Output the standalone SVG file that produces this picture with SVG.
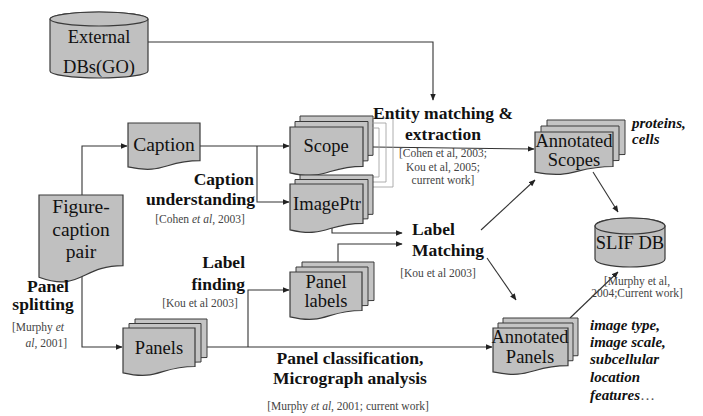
<svg xmlns="http://www.w3.org/2000/svg" width="703" height="416" viewBox="0 0 703 416" font-family="'Liberation Serif', 'Times New Roman', Times, Tinos, 'Nimbus Roman', 'Nimbus Roman No9 L', FreeSerif, 'Noto Serif', 'DejaVu Serif', serif">
<defs>
<marker id="ah" viewBox="0 0 10 10" refX="9" refY="5" markerWidth="7" markerHeight="7" markerUnits="userSpaceOnUse" orient="auto">
<path d="M0,1 L10,5 L0,9 Z" fill="#222"/>
</marker>
<style>
.shape{fill:#c0c0c0;stroke:#3a3a3a;stroke-width:1.2}
.back{fill:#c4c4c4;stroke:#3a3a3a;stroke-width:1}
.conn{fill:none;stroke:#333;stroke-width:1.1;marker-end:url(#ah)}
.thin{fill:none;stroke:#9a9a9a;stroke-width:0.8}
text{fill:#111}
.lbl{font-size:18.5px;text-anchor:middle}
.bold{font-size:17.5px;font-weight:bold}
.cite{font-size:11.5px;fill:#444}
.ital{font-size:15px;font-weight:bold;font-style:italic}
</style>
</defs>
<rect width="703" height="416" fill="#ffffff"/>

<g id="connectors">
<path class="conn" d="M148,42 H433 V100"/>
<path class="conn" d="M82,195 V146 H127"/>
<path class="conn" d="M200,146 H289"/>
<path class="conn" d="M257,146 V202 H289"/>
<path class="conn" d="M82,272 V347 H122"/>
<path class="conn" d="M195,347 H492"/>
<path class="conn" d="M248,347 V290 H289"/>
<path class="conn" d="M338,264 V244 H402"/>
<path class="conn" d="M332,228 V233 H402"/>
<path class="conn" d="M373,147 L534,149"/>
<path class="conn" d="M481,230 L535,180"/>
<path class="conn" d="M487,258 L516,300"/>
<path class="conn" d="M593,172 L618,212"/>
<path class="conn" d="M570,318 L618,272"/>
</g>

<g id="external-dbs">
<path class="shape" d="M50,19 A49,7 0 0 1 148,19 V71 A49,7 0 0 1 50,71 Z"/>
<ellipse class="shape" cx="99" cy="19" rx="49" ry="7"/>
<text class="lbl" x="99" y="43">External</text>
<text class="lbl" x="99" y="73">DBs(GO)</text>
</g>

<g id="caption">
<path class="shape" d="M128,123 H200 V160.7 C164,160.7 164,175 128,166.9 Z"/>
<text class="lbl" x="164" y="151" style="font-size:19.5px">Caption</text>
</g>

<g id="figure-caption-pair">
<path class="shape" d="M39,195 H123 V265.6 C81,265.6 81,292.4 39,277.2 Z"/>
<text class="lbl" x="81" y="213" style="font-size:19.5px">Figure-</text>
<text class="lbl" x="81" y="236" style="font-size:19.5px">caption</text>
<text class="lbl" x="81" y="258" style="font-size:19.5px">pair</text>
</g>

<g id="scope">
<path class="back" d="M300,116 H373 V155.3 C336.5,155.3 336.5,170.2 300,161.8 Z"/>
<path class="back" d="M295,121.5 H368 V160.8 C331.5,160.8 331.5,175.7 295,167.3 Z"/>
<path class="shape" d="M290,127 H363 V166.3 C326.5,166.3 326.5,181.2 290,172.8 Z"/>
<path class="thin" d="M372,118 H393 V187 H370"/>
<path class="thin" d="M372,123 H386 V182 H370"/>
<path class="thin" d="M372,128 H379 V177 H368"/>
<text class="lbl" x="326" y="152">Scope</text>
</g>

<g id="imageptr">
<path class="back" d="M300,175 H373 V214.3 C336.5,214.3 336.5,229.2 300,220.8 Z"/>
<path class="back" d="M295,179.5 H368 V218.8 C331.5,218.8 331.5,233.7 295,225.3 Z"/>
<path class="shape" d="M290,184 H363 V223.3 C326.5,223.3 326.5,238.2 290,229.8 Z"/>
<text class="lbl" x="327" y="210">ImagePtr</text>
</g>

<g id="panels">
<path class="back" d="M135,319 H207 V357.5 C171,357.5 171,372.1 135,363.8 Z"/>
<path class="back" d="M129,323.5 H201 V362 C165,362 165,376.6 129,368.3 Z"/>
<path class="shape" d="M123,328 H195 V366.5 C159,366.5 159,381.1 123,372.8 Z"/>
<text class="lbl" x="159" y="354">Panels</text>
</g>

<g id="panel-labels">
<path class="back" d="M302,262 H374 V300.5 C338,300.5 338,315.1 302,306.8 Z"/>
<path class="back" d="M296,267 H368 V305.5 C332,305.5 332,320.1 296,311.8 Z"/>
<path class="shape" d="M290,272 H362 V310.5 C326,310.5 326,325.1 290,316.8 Z"/>
<text class="lbl" x="326" y="288">Panel</text>
<text class="lbl" x="326" y="307">labels</text>
</g>

<g id="annotated-scopes">
<path class="back" d="M547,120 H625 V154.5 C586,154.5 586,167.6 547,160.2 Z"/>
<path class="back" d="M541,126 H619 V160.5 C580,160.5 580,173.6 541,166.2 Z"/>
<path class="shape" d="M535,132 H613 V166.5 C574,166.5 574,179.6 535,172.2 Z"/>
<text class="lbl" x="574" y="147">Annotated</text>
<text class="lbl" x="574" y="166">Scopes</text>
</g>

<g id="annotated-panels">
<path class="back" d="M503,318 H578 V355.7 C540.5,355.7 540.5,370 503,361.9 Z"/>
<path class="back" d="M498,323 H573 V360.7 C535.5,360.7 535.5,375 498,366.9 Z"/>
<path class="shape" d="M493,328 H568 V365.7 C530.5,365.7 530.5,380 493,371.9 Z"/>
<text class="lbl" x="530" y="343">Annotated</text>
<text class="lbl" x="530" y="363">Panels</text>
</g>

<g id="slif-db">
<path class="shape" d="M595,226 A35,8 0 0 1 665,226 V259 A35,8 0 0 1 595,259 Z"/>
<ellipse class="shape" cx="630" cy="226" rx="35" ry="8"/>
<text class="lbl" x="630" y="249">SLIF DB</text>
</g>

<g id="labels">
<text class="bold" x="443" y="119" text-anchor="middle">Entity matching &amp;</text>
<text class="bold" x="443" y="140" text-anchor="middle">extraction</text>
<text class="cite" x="443" y="157" text-anchor="middle">[Cohen et al, 2003;</text>
<text class="cite" x="443" y="171" text-anchor="middle">Kou et al, 2005;</text>
<text class="cite" x="443" y="184" text-anchor="middle">current work]</text>

<text class="bold" x="254" y="185" text-anchor="end">Caption</text>
<text class="bold" x="255" y="205" text-anchor="end">understanding</text>
<text class="cite" x="200" y="223" text-anchor="middle">[Cohen <tspan font-style="italic">et al</tspan>, 2003]</text>

<text class="bold" x="245" y="268" text-anchor="end">Label</text>
<text class="bold" x="245" y="290" text-anchor="end">finding</text>
<text class="cite" x="200" y="307" text-anchor="middle">[Kou et al 2003]</text>

<text class="bold" x="48" y="292" text-anchor="middle">Panel</text>
<text class="bold" x="43" y="310" text-anchor="middle">splitting</text>
<text class="cite" x="64" y="331" text-anchor="end">[Murphy <tspan font-style="italic">et</tspan></text>
<text class="cite" x="67" y="347" text-anchor="end"><tspan font-style="italic">al</tspan>, 2001]</text>

<text class="bold" x="412" y="235">Label</text>
<text class="bold" x="412" y="256">Matching</text>
<text class="cite" x="438" y="277" text-anchor="middle">[Kou et al 2003]</text>

<text class="bold" x="350" y="364" text-anchor="middle">Panel classification,</text>
<text class="bold" x="350" y="384" text-anchor="middle">Micrograph analysis</text>
<text class="cite" x="348" y="410" text-anchor="middle">[Murphy <tspan font-style="italic">et al</tspan>, 2001; current work]</text>

<text class="cite" x="637" y="285" text-anchor="middle">[Murphy et al,</text>
<text class="cite" x="637" y="297" text-anchor="middle">2004;Current work]</text>

<text class="ital" x="632" y="128">proteins,</text>
<text class="ital" x="632" y="144">cells</text>

<text class="ital" x="590" y="330">image type,</text>
<text class="ital" x="590" y="347">image scale,</text>
<text class="ital" x="590" y="364">subcellular</text>
<text class="ital" x="590" y="382">location</text>
<text class="ital" x="590" y="400">features<tspan font-weight="normal" font-style="normal" fill="#555">…</tspan></text>
</g>
</svg>
